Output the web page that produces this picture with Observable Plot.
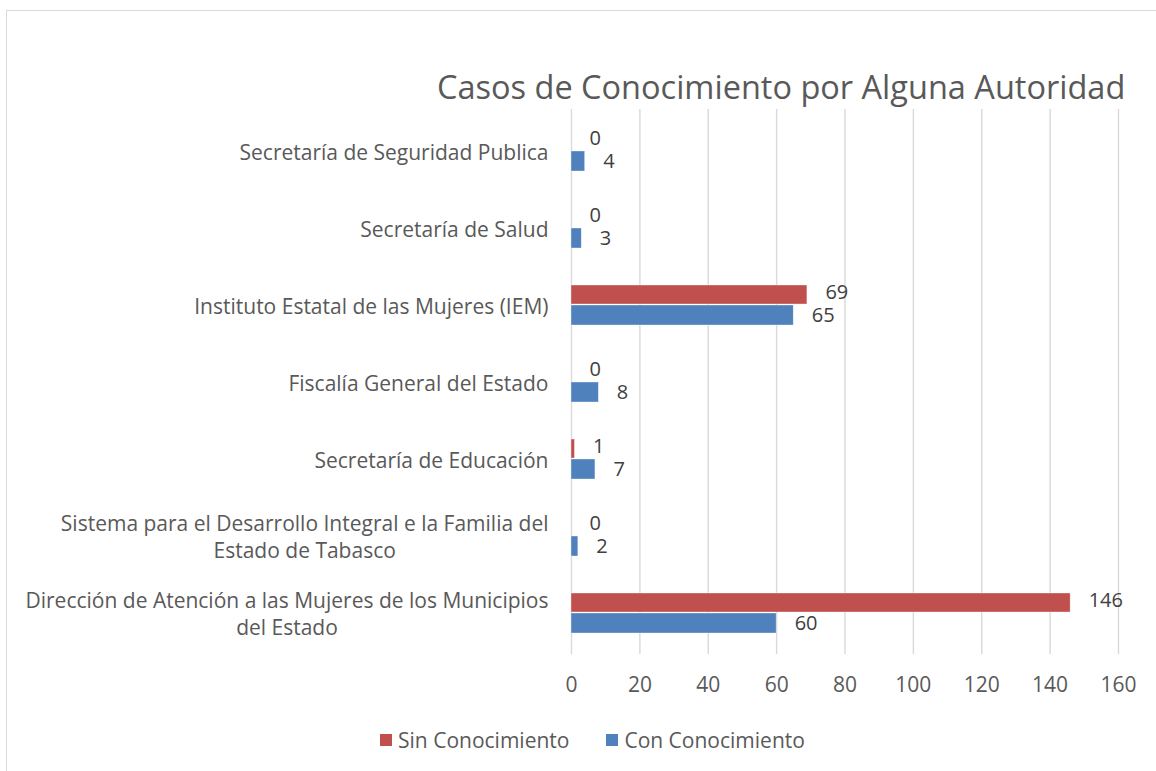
<!DOCTYPE html>
<html>
<head>
<meta charset="utf-8">
<script src="https://cdn.jsdelivr.net/npm/d3@7"></script>
<script src="https://cdn.jsdelivr.net/npm/@observablehq/plot@0.6"></script>
<style>
  html, body { margin: 0; padding: 0; background: #fff; overflow: hidden; }
  body { width: 1156px; height: 771px; position: relative; font-family: "Open Sans", sans-serif; }
  #frame { position: absolute; left: 6px; top: 10px; width: 1200px; height: 800px; border: 1.5px solid #d9d9d9; box-sizing: border-box; }
  #title { position: absolute; left: 437px; top: 71px; font-size: 32.5px; color: #595959; white-space: nowrap; line-height: 1; }
  #chart { position: absolute; left: 0; top: 0; }
  #legend { position: absolute; top: 726px; left: 380px; display: flex; align-items: center; font-size: 21px; color: #595959; white-space: nowrap; }
  .sw { display: inline-block; width: 12px; height: 12px; margin-right: 6px; }
  .item { display: flex; align-items: center; margin-right: 37px; }
</style>
</head>
<body>
<div id="frame"></div>
<div id="title">Casos de Conocimiento por Alguna Autoridad</div>
<div id="chart"></div>
<div id="legend"></div>
<script>
const categories = [
  "Secretaría de Seguridad Publica",
  "Secretaría de Salud",
  "Instituto Estatal de las Mujeres (IEM)",
  "Fiscalía General del Estado",
  "Secretaría de Educación",
  "Sistema para el Desarrollo Integral e la Familia del Estado de Tabasco",
  "Dirección de Atención a las Mujeres de los Municipios del Estado"
];
const categoryLabels = [
  "Secretaría de Seguridad Publica",
  "Secretaría de Salud",
  "Instituto Estatal de las Mujeres (IEM)",
  "Fiscalía General del Estado",
  "Secretaría de Educación",
  "Sistema para el Desarrollo Integral e la Familia del\nEstado de Tabasco",
  "Dirección de Atención a las Mujeres de los Municipios\ndel Estado"
];
const sinValues = [0, 0, 69, 0, 1, 0, 146];
const conValues = [4, 3, 65, 8, 7, 2, 60];
const seriesNames = ["Sin Conocimiento", "Con Conocimiento"];
const seriesColors = ["#C0504D", "#4F81BD"];
const xTicks = [0, 20, 40, 60, 80, 100, 120, 140, 160];

const sinRows = categories.map((c, i) => ({cat: c, value: sinValues[i]}));
const conRows = categories.map((c, i) => ({cat: c, value: conValues[i]}));
const labelOf = new Map(categories.map((c, i) => [c, categoryLabels[i]]));

const chart = Plot.plot({
  width: 1156,
  height: 700,
  marginLeft: 571,
  marginRight: 38,
  marginTop: 109,
  marginBottom: 46,
  style: {background: "transparent", fontFamily: "Open Sans, sans-serif", overflow: "visible"},
  x: {domain: [0, 160], ticks: xTicks},
  y: {type: "band", domain: categories, padding: 0, axis: null},
  marks: [
    Plot.gridX(xTicks, {stroke: "#d9d9d9", strokeOpacity: 1, strokeWidth: 1.4}),
    Plot.axisX(xTicks, {tickSize: 0, tickPadding: 23, fontSize: 21, fill: "#595959", label: null}),
    Plot.barX(sinRows, {x: "value", y: "cat", fill: seriesColors[0], insetTop: 19, insetBottom: 39, stroke: "#fff", strokeWidth: 0.6, strokeOpacity: 0.6}),
    Plot.barX(conRows, {x: "value", y: "cat", fill: seriesColors[1], insetTop: 39, insetBottom: 18, stroke: "#fff", strokeWidth: 0.6, strokeOpacity: 0.6}),
    Plot.text(sinRows, {x: "value", y: "cat", text: d => String(d.value), dx: 18, dy: -12, textAnchor: "start", fontSize: 20, fill: "#404040"}),
    Plot.text(conRows, {x: "value", y: "cat", text: d => String(d.value), dx: 18, dy: 11, textAnchor: "start", fontSize: 20, fill: "#404040"}),
    Plot.text(categories, {y: d => d, text: d => labelOf.get(d), frameAnchor: "left", dx: -23, textAnchor: "end", fontSize: 21, lineHeight: 1.3, fill: "#595959"})
  ]
});
document.getElementById("chart").appendChild(chart);

// center-align the lines of wrapped category labels (as in the original)
chart.querySelectorAll("text").forEach(el => {
  const spans = el.querySelectorAll("tspan");
  if (spans.length > 1) {
    const w = el.getBBox().width;
    el.setAttribute("text-anchor", "middle");
    el.style.textAnchor = "middle";
    spans.forEach(s => { s.setAttribute("x", -w / 2); s.setAttribute("text-anchor", "middle"); });
  }
});

const legend = document.getElementById("legend");
seriesNames.forEach((name, i) => {
  const item = document.createElement("span");
  item.className = "item";
  const sw = document.createElement("span");
  sw.className = "sw";
  sw.style.background = seriesColors[i];
  item.appendChild(sw);
  item.appendChild(document.createTextNode(name));
  legend.appendChild(item);
});
</script>
</body>
</html>
